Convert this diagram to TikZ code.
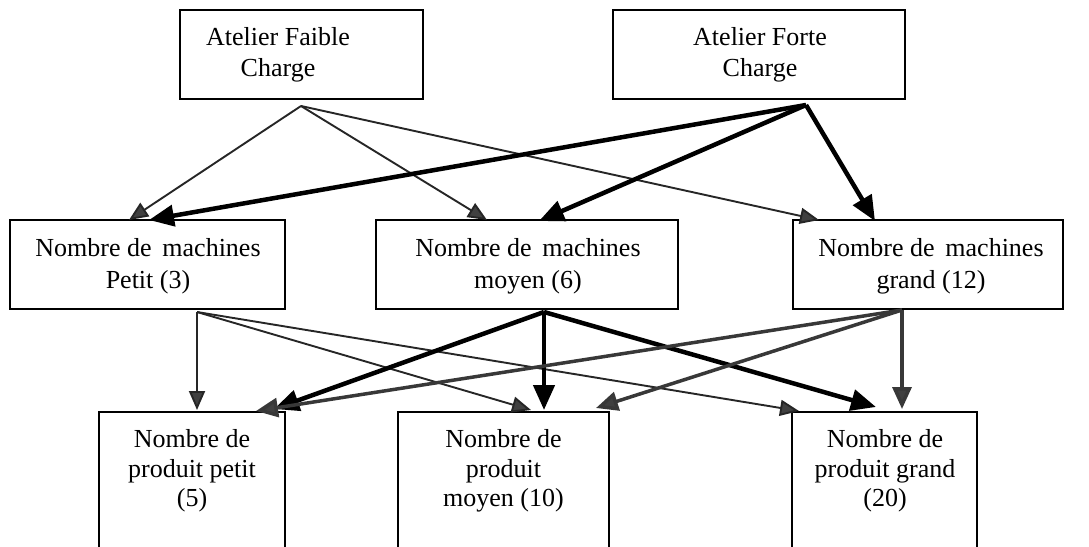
\documentclass[tikz,border=0pt]{standalone}
\usepackage{fontspec}
\setmainfont{Liberation Serif}
\usetikzlibrary{arrows.meta,calc}
\begin{document}
\begin{tikzpicture}[x=1pt,y=-1pt,
  box/.style={draw, line width=2pt, rectangle, inner sep=0pt},
  txt/.style={align=center, inner sep=0pt, font=\fontsize{26}{31}\selectfont},
  txtb/.style={align=center, inner sep=0pt, font=\fontsize{26}{29.5}\selectfont},
  lightarr/.style={line width=1.9pt, draw=black!85, -{Triangle[length=19pt,width=16pt,fill=black!75]}},
  heavyarr/.style={line width=4.5pt, draw=black, -{Triangle[length=25pt,width=21pt,fill=black]}},
  greyarr/.style={line width=3.5pt, draw=black!78, -{Triangle[length=22pt,width=19pt,fill=black!75]}}
]
\useasboundingbox (0,0) rectangle (1089,546);

% top row
\node[box, minimum width=243, minimum height=89] (fa) at (301.5,54.5) {};
\node[txt] (fat) at (278,54.7) {Atelier Faible\\Charge};
\node[box, minimum width=292, minimum height=89] (fo) at (759,54.5) {};
\node[txt] (fot) at (760,54.7) {Atelier Forte\\Charge};

% middle row
\node[box, minimum width=275, minimum height=89] (mp) at (147.5,264.5) {};
\node[txt, font=\fontsize{26}{32}\selectfont] (mpt) at (148,266.5) {Nombre de\, machines\\Petit (3)};
\node[box, minimum width=302, minimum height=89] (mm) at (527,264.5) {};
\node[txt, font=\fontsize{26}{32}\selectfont] (mmt) at (528,266.5) {Nombre de\, machines\\moyen (6)};
\node[box, minimum width=270, minimum height=89] (mg) at (928,264.5) {};
\node[txt, font=\fontsize{26}{32}\selectfont] (mgt) at (931,266.5) {Nombre de\, machines\\grand (12)};

% bottom row
\node[box, minimum width=186, minimum height=148] (pp) at (192,486) {};
\node[txtb] (ppt) at (192,471) {Nombre de\\produit petit\\(5)};
\node[box, minimum width=211, minimum height=148] (pm) at (503.5,486) {};
\node[txtb] (pmt) at (503.5,471) {Nombre de\\produit\\moyen (10)};
\node[box, minimum width=185, minimum height=148] (pg) at (884.5,486) {};
\node[txtb] (pgt) at (885,471) {Nombre de\\produit grand\\(20)};

% from Atelier Faible Charge
\draw[lightarr] ($(fa.south west)+(122,6)$) -- ($(mp.north west)+(120,1)$);
\draw[lightarr] ($(fa.south west)+(122,6)$) -- ($(mm.north west)+(112,1)$);
\draw[lightarr] ($(fa.south west)+(122,6)$) -- ($(mg.north west)+(27,1)$);

% from Atelier Forte Charge
\draw[heavyarr] ($(fo.south west)+(194,5)$) -- ($(mp.north west)+(140,1)$);
\draw[heavyarr] ($(fo.south west)+(194,5)$) -- ($(mm.north west)+(164,2)$);
\draw[heavyarr] ($(fo.south west)+(194,5)$) -- ($(mg.north west)+(83,2)$);

% from machines petit
\draw[lightarr] ($(mp.south west)+(188,2)$) -- ($(pp.north west)+(99,-1)$);
\draw[lightarr] ($(mp.south west)+(188,2)$) -- ($(pm.north west)+(134,-1)$);
\draw[lightarr] ($(mp.south west)+(188,2)$) -- ($(pg.north west)+(8,0)$);

% from machines moyen
\draw[heavyarr] ($(mm.south west)+(169,2)$) -- ($(pp.north west)+(176,-2)$);
\draw[heavyarr] ($(mm.south west)+(169,2)$) -- ($(pm.north west)+(147,-1)$);
\draw[heavyarr] ($(mm.south west)+(169,2)$) -- ($(pg.north west)+(85,-4)$);

% from machines grand
\draw[greyarr] ($(mg.south west)+(110,0)$) -- ($(pp.north west)+(158,0)$);
\draw[greyarr] ($(mg.south west)+(110,0)$) -- ($(pm.north west)+(199,-3)$);
\draw[greyarr] ($(mg.south west)+(110,0)$) -- ($(pg.north west)+(111,-2)$);
\end{tikzpicture}
\end{document}
